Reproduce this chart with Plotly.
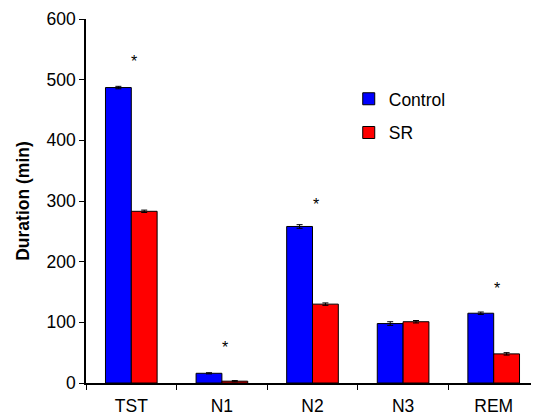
import plotly.graph_objects as go

categories = ["TST", "N1", "N2", "N3", "REM"]
control = [487, 16, 258, 98, 115]
control_err = [2, 1, 3, 3, 2]
sr = [283, 3, 130, 101, 48]
sr_err = [2, 1, 2, 2, 2]
star_cats = ["TST", "N1", "N2", "REM"]
star_y = [530, 58, 295, 155]

fig = go.Figure()
fig.add_trace(go.Bar(
    name="Control", x=categories, y=control, legendgroup="c",
    marker=dict(color="#0000ff", line=dict(color="black", width=1)),
    error_y=dict(type="data", array=control_err, color="black", thickness=1, width=3),
))
fig.add_trace(go.Bar(
    name="SR", x=categories, y=sr, legendgroup="s",
    marker=dict(color="#ff0000", line=dict(color="black", width=1)),
    error_y=dict(type="data", array=sr_err, color="black", thickness=1, width=3),
))
for c, y in zip(star_cats, star_y):
    fig.add_annotation(x=c, y=y, text="*", showarrow=False, xshift=3,
                       font=dict(size=16, color="black", family="Arial"))

fig.update_layout(
    width=531, height=409,
    margin=dict(l=78, r=0, t=11, b=34),
    plot_bgcolor="white", paper_bgcolor="white",
    barmode="group", bargap=0.43, bargroupgap=0,
    font=dict(family="Arial", size=17.5, color="black"),
    showlegend=True,
    legend=dict(x=0.58, y=0.83, xanchor="left", yanchor="top",
                font=dict(size=17.5), itemwidth=30, tracegroupgap=8,
                traceorder="grouped",
                bgcolor="rgba(0,0,0,0)"),
    xaxis=dict(
        showline=True, linecolor="black", linewidth=1.5,
        ticks="outside", tickson="boundaries", ticklen=5, tickcolor="black",
        ticklabelstandoff=6,
        range=[-0.5, 4.5],
    ),
    yaxis=dict(
        range=[0, 600], dtick=100,
        showline=True, linecolor="black", linewidth=1.5,
        ticks="outside", ticklen=5, tickcolor="black",
        showgrid=False, zeroline=False,
        title=dict(text="<b>Duration (min)</b>", font=dict(size=17.5), standoff=12),
    ),
)
fig.write_html("out.html")
